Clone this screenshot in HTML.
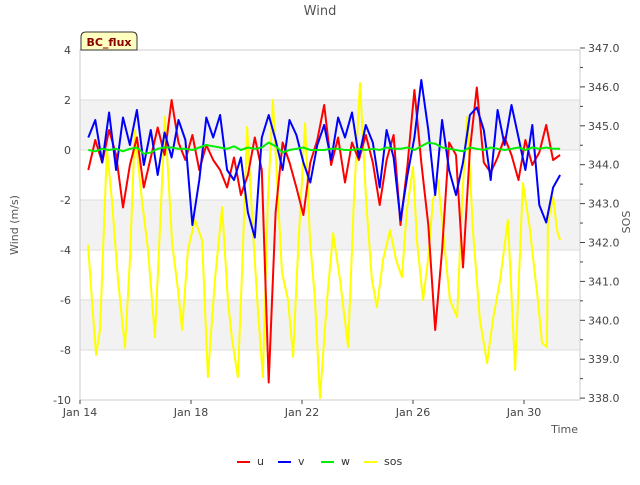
<!DOCTYPE html>
<html><head><meta charset="utf-8"><style>
body{margin:0;background:#fff;font-family:"Liberation Sans","DejaVu Sans",sans-serif;}
svg text{font-family:"DejaVu Sans","Liberation Sans",sans-serif;}
</style></head><body>
<svg id="chart" width="640" height="480" viewBox="0 0 640 480" xmlns="http://www.w3.org/2000/svg">
<rect width="640" height="480" fill="#fff"/>
<g id="bands"></g>
<g id="grid"></g>
<rect x="80" y="50" width="500" height="350" fill="none" stroke="#cccccc"/>
<g id="axes"></g>
<g id="series"></g>
<text x="320" y="15" text-anchor="middle" font-size="13" fill="#555">Wind</text>
<text transform="translate(18,225) rotate(-90)" text-anchor="middle" font-size="11" fill="#555">Wind (m/s)</text>
<text transform="translate(630,222) rotate(-90)" text-anchor="middle" font-size="11" fill="#555">SOS</text>
<text x="578" y="433" text-anchor="end" font-size="11" fill="#555">Time</text>
<g>
<path d="M81,50 L81,37 Q81,32 86,32 L132,32 Q137,32 137,37 L137,50 Z" fill="#ffffc0" stroke="#333"/>
<text x="109" y="46" text-anchor="middle" font-size="11" font-weight="bold" fill="#8b0000">BC_flux</text>
</g>
<g id="legend"></g>
</svg>
<script>
const NS="http://www.w3.org/2000/svg";
const leftTicks=[4,2,0,-2,-4,-6,-8,-10];
const rightTicks=[347,346,345,344,343,342,341,340,339,338];
const xTickDays=[0,4,8,12,16];
const xTickLabels=["Jan 14","Jan 18","Jan 22","Jan 26","Jan 30"];
const uvTimes=[0.3,0.55,0.8,1.05,1.3,1.55,1.8,2.05,2.3,2.55,2.8,3.05,3.3,3.55,3.8,4.05,4.3,4.55,4.8,5.05,5.3,5.55,5.8,6.05,6.3,6.55,6.8,7.05,7.3,7.55,7.8,8.05,8.3,8.55,8.8,9.05,9.3,9.55,9.8,10.05,10.3,10.55,10.8,11.05,11.3,11.55,11.8,12.05,12.3,12.55,12.8,13.05,13.3,13.55,13.8,14.05,14.3,14.55,14.8,15.05,15.3,15.55,15.8,16.05,16.3,16.55,16.8,17.05,17.3];
const uValues=[-0.8,0.4,-0.5,0.8,-0.2,-2.3,-0.6,0.5,-1.5,-0.3,0.9,-0.2,2.0,0.3,-0.4,0.6,-0.8,0.2,-0.4,-0.8,-1.5,-0.3,-1.8,-1.0,0.5,-0.8,-9.3,-2.5,0.3,-0.5,-1.5,-2.6,-0.5,0.4,1.8,-0.6,0.5,-1.3,0.3,-0.4,0.6,-0.5,-2.2,-0.4,0.6,-3.0,-0.6,2.4,-0.5,-3.0,-7.2,-4.0,0.3,-0.2,-4.7,0.0,2.5,-0.5,-0.9,-0.3,0.5,-0.2,-1.2,0.4,-0.6,-0.1,1.0,-0.4,-0.2];
const vValues=[0.5,1.2,-0.5,1.5,-0.8,1.3,0.2,1.6,-0.6,0.8,-1.0,0.7,-0.3,1.2,0.4,-3.0,-1.2,1.3,0.5,1.4,-0.8,-1.2,-0.3,-2.5,-3.5,0.5,1.4,0.4,-0.8,1.2,0.6,-0.5,-1.3,0.2,1.0,-0.4,1.3,0.5,1.5,-0.3,1.0,0.3,-1.5,0.8,-0.3,-2.8,-1.0,0.5,2.8,0.8,-1.8,1.2,-0.8,-1.8,-0.5,1.4,1.7,0.8,-1.2,1.6,0.2,1.8,0.5,-0.8,1.0,-2.2,-2.9,-1.5,-1.0];
const wValues=[0,-0.05,0.05,0,0.05,-0.05,0.05,0.1,-0.15,-0.1,0.05,0.1,0.1,0.05,0.05,0,0.1,0.2,0.15,0.1,0.05,0.15,0,0.1,0.05,0.1,0.3,0.15,-0.1,0,0.05,0.1,0,0,0,0.05,0.05,0,0,0.05,0,0.05,0,0.1,0.05,0.05,0.1,0,0.15,0.3,0.25,0.1,0.05,0,-0.05,0.1,0.05,0,0.1,0.05,0,0.05,0.1,0,0.1,0.05,0.1,0.05,0.05];
const sosTimes=[0.29,0.43,0.58,0.72,0.97,1.15,1.37,1.62,1.80,1.98,2.23,2.45,2.70,2.88,3.06,3.32,3.53,3.68,3.89,4.14,4.40,4.61,4.86,5.12,5.33,5.48,5.69,5.87,6.02,6.23,6.41,6.59,6.77,6.95,7.14,7.28,7.50,7.68,7.86,8.11,8.29,8.47,8.65,8.90,9.12,9.37,9.66,9.87,10.09,10.31,10.52,10.70,10.92,11.17,11.39,11.60,11.78,12.00,12.14,12.36,12.54,12.72,12.90,13.15,13.33,13.59,13.77,13.95,14.16,14.41,14.67,14.88,15.14,15.42,15.68,15.86,15.96,16.22,16.32,16.50,16.65,16.83,16.86,17.05,17.19,17.30];
const sosValues=[341.94,340.52,339.11,339.75,344.38,343.09,341.04,339.29,341.55,344.89,343.09,341.81,339.57,342.32,345.23,341.99,340.78,339.75,341.81,342.58,342.06,338.54,341.04,342.91,340.52,339.49,338.54,341.81,344.97,342.32,340.26,338.54,343.09,345.66,343.09,341.22,340.52,339.06,341.81,345.07,342.06,340.52,338.0,340.52,342.24,341.04,339.31,343.09,346.1,343.09,341.04,340.34,341.55,342.32,341.55,341.11,342.84,343.94,342.06,340.52,341.55,343.09,343.61,341.81,340.52,340.08,343.09,345.23,342.32,340.01,338.9,340.01,341.04,342.58,338.72,341.81,343.53,342.32,341.63,340.52,339.42,339.31,342.5,343.17,342.32,342.06];

const X=d=>80+27.75*d;
const YL=v=>50+(4-v)*25;
const YR=s=>48+(347-s)*38.9;
function mk(tag,attrs,parent){const e=document.createElementNS(NS,tag);for(const k in attrs)e.setAttribute(k,attrs[k]);parent.appendChild(e);return e;}
const bands=document.getElementById('bands'),grid=document.getElementById('grid'),axes=document.getElementById('axes'),series=document.getElementById('series'),legend=document.getElementById('legend');
[[2,0],[-2,-4],[-6,-8]].forEach(b=>{const r=mk('rect',{x:80,y:YL(b[0]),width:500,height:YL(b[1])-YL(b[0]),fill:'#f2f2f2'},bands);

});
leftTicks.forEach(v=>{const l=mk('line',{x1:80,x2:580,y1:YL(v),y2:YL(v),stroke:'#dddddd'},grid);


const t=mk('text',{x:71,y:YL(v)+4,'text-anchor':'end','font-size':11,fill:'#444'},axes);t.textContent=v;

});
rightTicks.forEach(s=>{mk('line',{x1:580,x2:585,y1:YR(s),y2:YR(s),stroke:'#444'},axes);
if(s>338)mk('line',{x1:580,x2:583,y1:YR(s-0.5),y2:YR(s-0.5),stroke:'#444'},axes);
const t=mk('text',{x:588,y:YR(s)+4,'font-size':11,fill:'#444'},axes);t.textContent=s.toFixed(1);

});
xTickDays.forEach((d,i)=>{mk('line',{x1:X(d),x2:X(d),y1:400,y2:404,stroke:'#444'},axes);
const t=mk('text',{x:X(d),y:416,'text-anchor':'middle','font-size':11,fill:'#444'},axes);t.textContent=xTickLabels[i];

});
function line(ts,vs,yf,color,name){const d=ts.map((t,i)=>(i?'L':'M')+X(t).toFixed(1)+','+yf(vs[i]).toFixed(1)).join(' ');
const p=mk('path',{d:d,fill:'none',stroke:color,'stroke-width':2,'stroke-linejoin':'round'},series);

}
line(sosTimes,sosValues,YR,'#ffff00','sos-line');
line(uvTimes,uValues,YL,'#ff0000','u-line');
line(uvTimes,vValues,YL,'#0000ff','v-line');
line(uvTimes,wValues,YL,'#00ee00','w-line');
[['u','#ff0000',237],['v','#0000ff',278],['w','#00ee00',321],['sos','#ffff00',364]].forEach(e=>{
const g=mk('g',{},legend);


mk('line',{x1:e[2],x2:e[2]+13,y1:462,y2:462,stroke:e[1],'stroke-width':2},g);
const t=mk('text',{x:e[2]+20,y:465,'font-size':11,fill:'#333'},g);t.textContent=e[0];});
</script>
</body></html>
